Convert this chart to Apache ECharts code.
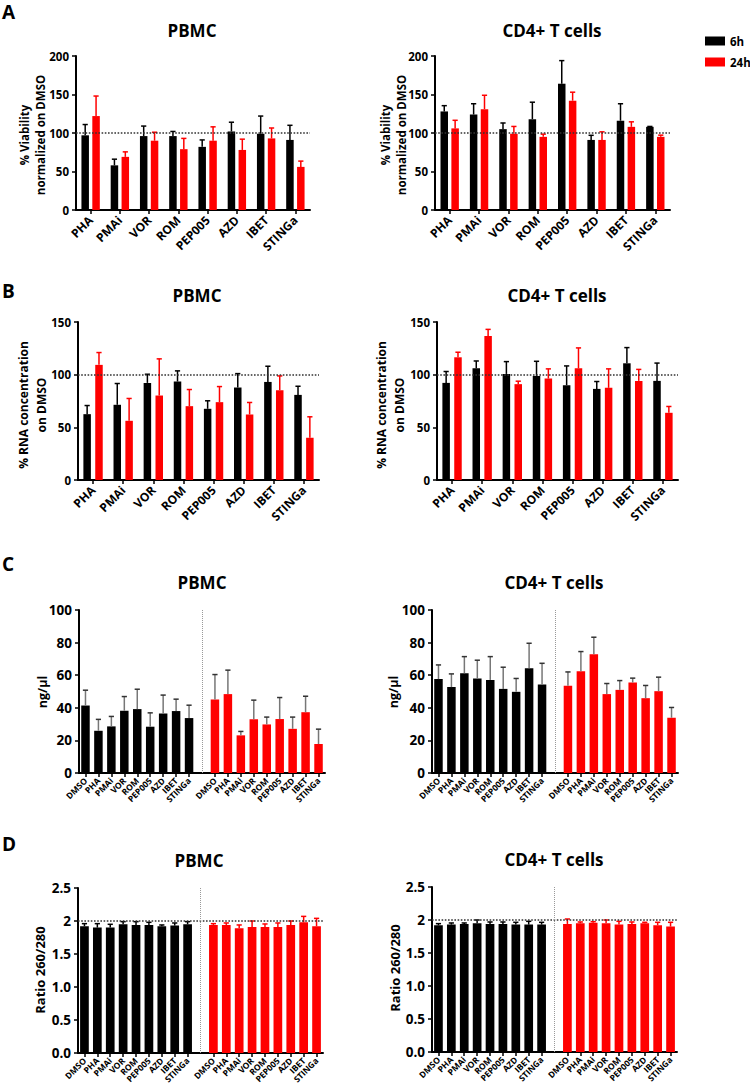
<!DOCTYPE html>
<html><head><meta charset="utf-8">
<script src="https://cdn.jsdelivr.net/npm/echarts/dist/echarts.min.js"></script>
<style>html,body{margin:0;padding:0;background:#fff}#c{width:750px;height:1090px}</style>
</head><body><div id="c"></div>
<script>
// ---------- data ----------
const cats8 = ['PHA','PMAi','VOR','ROM','PEP005','AZD','IBET','STINGa'];
const cats9 = ['DMSO','PHA','PMAi','VOR','ROM','PEP005','AZD','IBET','STINGa'];
const seriesNames = ['6h','24h'];

// A: % viability normalized on DMSO
const aPbmc6    = [97, 58, 96, 96, 82, 102, 99, 91];
const aPbmc6Sd  = [14, 8, 13, 6, 9, 12, 23, 19];
const aPbmc24   = [122, 69, 90, 79, 90, 78, 93, 56];
const aPbmc24Sd = [26, 6.5, 11, 14, 18, 14, 13.5, 7.5];
const aCd46     = [128, 124, 105, 118, 164, 91, 116, 108];
const aCd46Sd   = [7.5, 14, 8, 22, 30, 6, 22, 0.5];
const aCd424    = [106, 131, 99, 95, 142, 91, 108, 95];
const aCd424Sd  = [10.5, 18, 9.5, 3.5, 11, 10.5, 6.5, 2.2];

// B: % RNA concentration on DMSO
const bPbmc6    = [62.5, 71.4, 92.2, 93.5, 67.6, 87.8, 93.1, 80.8];
const bPbmc6Sd  = [8.2, 20.2, 8.2, 10.1, 7.6, 13.2, 14.9, 8.2];
const bPbmc24   = [109.3, 56.2, 80.2, 70.1, 73.9, 62.2, 85.3, 40.1];
const bPbmc24Sd = [11.7, 21.2, 34.8, 15.8, 14.8, 11.4, 13.5, 19.9];
const bCd46     = [92.2, 106, 100.7, 98.8, 90, 86.5, 110.8, 94.1];
const bCd46Sd   = [10.8, 7, 11.7, 13.9, 18.3, 7, 14.9, 16.9];
const bCd424    = [116.5, 136.7, 91, 96.3, 106, 87.5, 94.1, 63.8];
const bCd424Sd  = [4.8, 6.3, 2.8, 9.2, 19.4, 18, 10.9, 6];

// C: ng/µl
const cPbmc6    = [41.4, 25.9, 28.6, 38.2, 39.2, 28.4, 36.5, 38, 33.7];
const cPbmc6Sd  = [9.4, 7, 6.1, 8.7, 12.2, 8.5, 11.3, 7.3, 7.9];
const cPbmc24   = [45.1, 48.4, 23.1, 32.9, 29.8, 33.1, 27.1, 37.3, 17.8];
const cPbmc24Sd = [15.3, 14.7, 2.4, 11.8, 4.5, 13.2, 7.2, 9.8, 9.1];
const cCd46     = [57.6, 52.7, 61.2, 58, 57.1, 51.6, 49.8, 64.3, 54.3];
const cCd46Sd   = [8.7, 8.1, 10.2, 11.2, 14.3, 13.3, 8.2, 15.3, 13];
const cCd424    = [53.5, 62.4, 72.9, 48.4, 51, 55.5, 45.9, 50.2, 33.9];
const cCd424Sd  = [8.5, 12.1, 10.4, 6.5, 5.7, 2.7, 7.8, 8.6, 6.3];

// D: ratio 260/280
const dPbmc6    = [1.92, 1.90, 1.90, 1.95, 1.94, 1.94, 1.92, 1.93, 1.95];
const dPbmc6Sd  = [0.04, 0.06, 0.05, 0.04, 0.05, 0.04, 0.02, 0.04, 0.04];
const dPbmc24   = [1.94, 1.94, 1.89, 1.91, 1.91, 1.91, 1.94, 1.98, 1.92];
const dPbmc24Sd = [0.02, 0.03, 0.05, 0.09, 0.045, 0.06, 0.06, 0.09, 0.12];
const dCd46     = [1.92, 1.93, 1.94, 1.95, 1.94, 1.94, 1.93, 1.93, 1.93];
const dCd46Sd   = [0.025, 0.025, 0.015, 0.05, 0.03, 0.03, 0.035, 0.05, 0.035];
const dCd424    = [1.94, 1.95, 1.96, 1.95, 1.93, 1.94, 1.95, 1.92, 1.90];
const dCd424Sd  = [0.075, 0.02, 0.015, 0.05, 0.05, 0.03, 0.015, 0.045, 0.065];

const dTickLabels = ['0.0','0.5','1.0','1.5','2','2.5'];

// ---------- layout / style ----------
const FONT = '"Open Sans", "DejaVu Sans", sans-serif';
const BLACK = '#000000', RED = '#ff0000';

const panels = [
  {kind:'pair', grid:{left:76, top:56, width:234, height:154}, cats:cats8, m6:aPbmc6, s6:aPbmc6Sd, m24:aPbmc24, s24:aPbmc24Sd, yMax:200, yStep:50, ref:100, barW:7.5, gap:45, yFont:11.5, xFont:12},
  {kind:'pair', grid:{left:435, top:56, width:235, height:154}, cats:cats8, m6:aCd46, s6:aCd46Sd, m24:aCd424, s24:aCd424Sd, yMax:200, yStep:50, ref:100, barW:7.5, gap:45, yFont:11.5, xFont:12},
  {kind:'pair', grid:{left:78, top:322, width:241, height:158}, cats:cats8, m6:bPbmc6, s6:bPbmc6Sd, m24:bPbmc24, s24:bPbmc24Sd, yMax:150, yStep:50, ref:100, barW:7.5, gap:58, yFont:11.5, xFont:12},
  {kind:'pair', grid:{left:437, top:322, width:241, height:158}, cats:cats8, m6:bCd46, s6:bCd46Sd, m24:bCd424, s24:bCd424Sd, yMax:150, yStep:50, ref:100, barW:7.5, gap:58, yFont:11.5, xFont:12},
  {kind:'split', grid:{left:79, top:610, width:246, height:163}, cats:cats9, m6:cPbmc6, s6:cPbmc6Sd, m24:cPbmc24, s24:cPbmc24Sd, yMax:100, yStep:20, ref:null, barW:8.5, yFont:13.5, xFont:8.5, errGrey:true},
  {kind:'split', grid:{left:432, top:610, width:246, height:163}, cats:cats9, m6:cCd46, s6:cCd46Sd, m24:cCd424, s24:cCd424Sd, yMax:100, yStep:20, ref:null, barW:8.5, yFont:13.5, xFont:8.5, errGrey:true},
  {kind:'split', grid:{left:78, top:888, width:245, height:165}, cats:cats9, m6:dPbmc6, s6:dPbmc6Sd, m24:dPbmc24, s24:dPbmc24Sd, yMax:2.5, yStep:0.5, ref:2, barW:8.7, yFont:13.5, xFont:8.5, ticks:dTickLabels},
  {kind:'split', grid:{left:432, top:887, width:245, height:165}, cats:cats9, m6:dCd46, s6:dCd46Sd, m24:dCd424, s24:dCd424Sd, yMax:2.5, yStep:0.5, ref:2, barW:8.7, yFont:13.5, xFont:8.5, ticks:dTickLabels}
];

function errRender(offset, stem, cap) {
  return function (params, api) {
    const x = api.value(0);
    const p0 = api.coord([x, api.value(1)]);
    const p1 = api.coord([x, api.value(2)]);
    const cx = p0[0] + offset;
    return {type:'group', children:[
      {type:'line', shape:{x1:cx, y1:p0[1], x2:cx, y2:p1[1]}, style:{stroke:stem, lineWidth:1.5}},
      {type:'line', shape:{x1:cx-2.6, y1:p1[1], x2:cx+2.6, y2:p1[1]}, style:{stroke:cap, lineWidth:1.5}}
    ]};
  };
}

const grids = [], xAxes = [], yAxes = [], series = [];
panels.forEach((p, i) => {
  grids.push(Object.assign({outerBoundsMode:'none', containLabel:false}, p.grid));
  let xData, d6, d24, e6, e24, off6, off24, tickInterval;
  if (p.kind === 'pair') {
    xData = p.cats;
    d6 = p.m6; d24 = p.m24;
    e6 = p.m6.map((v, k) => [k, v, v + p.s6[k]]);
    e24 = p.m24.map((v, k) => [k, v, v + p.s24[k]]);
    const off = (p.barW + p.barW * p.gap / 100) / 2;
    off6 = -off; off24 = off;
    tickInterval = 0;
  } else {
    const n = p.cats.length;
    xData = p.cats.concat([''], p.cats);
    const blank = new Array(n + 1).fill('-');
    d6 = p.m6.concat(blank);
    d24 = blank.concat(p.m24);
    e6 = p.m6.map((v, k) => [k, v, v + p.s6[k]]);
    e24 = p.m24.map((v, k) => [k + n + 1, v, v + p.s24[k]]);
    off6 = 0; off24 = 0;
    tickInterval = (idx) => idx !== n;
  }
  xAxes.push({
    type:'category', gridIndex:i, data:xData,
    axisLine:{show:true, lineStyle:{color:'#000', width:2}},
    axisTick:{show:true, alignWithLabel:true, interval:tickInterval, length:4, lineStyle:{color:'#000', width:1.5}},
    axisLabel:{show:true, interval:0, rotate:45, margin:p.kind==='pair'?8:6, color:'#000', fontWeight:'bold', fontSize:p.xFont, fontFamily:FONT},
    splitLine:{show:false}
  });
  yAxes.push({
    type:'value', gridIndex:i, min:0, max:p.yMax, interval:p.yStep,
    axisLine:{show:true, lineStyle:{color:'#000', width:2}},
    axisTick:{show:true, length:4, lineStyle:{color:'#000', width:1.5}},
    axisLabel:{show:true, margin:7, color:'#000', fontWeight:'bold', fontSize:p.yFont, fontFamily:FONT,
      formatter: p.ticks ? (v) => p.ticks[Math.round(v / p.yStep)] : (v) => String(v)},
    splitLine:{show:false}
  });
  const mlData = [];
  if (p.ref !== null) mlData.push({yAxis:p.ref, lineStyle:{color:'#333', type:'dotted', width:1.6}});
  if (p.kind === 'split') mlData.push({xAxis:p.cats.length, lineStyle:{color:'#999', type:'dotted', width:1}});
  series.push({
    name:'6h', type:'bar', xAxisIndex:i, yAxisIndex:i, data:d6, barWidth:p.barW,
    barGap: p.kind === 'pair' ? p.gap + '%' : '-100%',
    itemStyle:{color:BLACK}, animation:false, z:2,
    markLine: mlData.length ? {silent:true, symbol:['none','none'], label:{show:false}, animation:false, data:mlData} : undefined
  });
  series.push({
    name:'24h', type:'bar', xAxisIndex:i, yAxisIndex:i, data:d24, barWidth:p.barW,
    barGap: p.kind === 'pair' ? p.gap + '%' : '-100%',
    itemStyle:{color:RED}, animation:false, z:2
  });
  const stem6 = p.errGrey ? '#777' : BLACK, cap6 = p.errGrey ? '#333' : BLACK;
  const stem24 = p.errGrey ? '#777' : RED, cap24 = p.errGrey ? '#333' : RED;
  series.push({name:'6h SD', type:'custom', xAxisIndex:i, yAxisIndex:i, data:e6, encode:{x:0, y:[1,2]},
    renderItem: errRender(off6, stem6, cap6), animation:false, z:3, silent:true});
  series.push({name:'24h SD', type:'custom', xAxisIndex:i, yAxisIndex:i, data:e24, encode:{x:0, y:[1,2]},
    renderItem: errRender(off24, stem24, cap24), animation:false, z:3, silent:true});
});

function txt(text, x, y, size, opts) {
  opts = opts || {};
  return {type:'text', x:x, y:y, rotation: opts.rot || 0, silent:true,
    style:{text:text, fill:'#000', font:'bold ' + size + 'px ' + FONT,
      textAlign: opts.align || 'center', textVerticalAlign:'middle', verticalAlign:'middle',
      lineHeight: opts.lh || undefined}};
}
const R = Math.PI / 2;
const graphics = [
  txt('A', 2, 12, 19, {align:'left'}),
  txt('B', 2, 291, 19, {align:'left'}),
  txt('C', 2, 564, 19, {align:'left'}),
  txt('D', 2, 844, 19, {align:'left'}),
  txt('PBMC', 192, 30, 17), txt('CD4+ T cells', 552, 30, 17),
  txt('PBMC', 197, 295, 17), txt('CD4+ T cells', 557, 295, 17),
  txt('PBMC', 202, 582, 17), txt('CD4+ T cells', 554, 582, 17),
  txt('PBMC', 199, 860, 17), txt('CD4+ T cells', 554, 859, 17),
  txt('% Viability\nnormalized on DMSO', 32, 135, 11.5, {rot:R, lh:16}),
  txt('% Viability\nnormalized on DMSO', 393.5, 135, 11.5, {rot:R, lh:16}),
  txt('% RNA concentration\non DMSO', 32, 405, 12, {rot:R, lh:18}),
  txt('% RNA concentration\non DMSO', 390.5, 405, 12, {rot:R, lh:18}),
  txt('ng/µl', 42, 692, 12.5, {rot:R}),
  txt('ng/µl', 393, 692, 12.5, {rot:R}),
  txt('Ratio 260/280', 40, 970, 13, {rot:R}),
  txt('Ratio 260/280', 395, 968, 13, {rot:R})
];

const chart = echarts.init(document.getElementById('c'), null, {renderer:'svg', width:750, height:1090});
chart.setOption({
  backgroundColor:'#fff',
  animation:false,
  legend:{data:seriesNames, orient:'vertical', left:700, top:29, itemWidth:20, itemHeight:9, itemGap:7,
    icon:'rect', selectedMode:false,
    textStyle:{color:'#000', fontWeight:'bold', fontSize:11.5, fontFamily:FONT, lineHeight:14}},
  grid:grids, xAxis:xAxes, yAxis:yAxes, series:series, graphic:graphics
});
</script></body></html>
